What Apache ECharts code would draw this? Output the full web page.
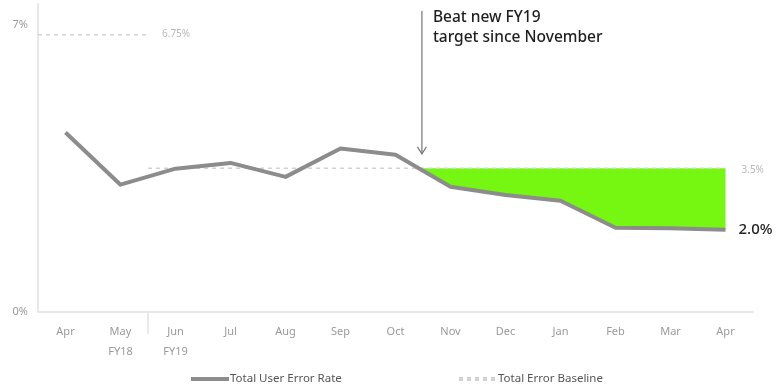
<!DOCTYPE html>
<html>
<head>
<meta charset="utf-8">
<script src="https://cdn.jsdelivr.net/npm/echarts@6/dist/echarts.min.js"></script>
<style>
  html, body { margin: 0; padding: 0; background: #fff; }
  #chart { width: 779px; height: 392px; }
</style>
</head>
<body>
<div id="chart"></div>
<script>
// Monthly user error rate, FY18 Apr through FY19 Apr
const months = ['Apr', 'May', 'Jun', 'Jul', 'Aug', 'Sep', 'Oct', 'Nov', 'Dec', 'Jan', 'Feb', 'Mar', 'Apr'];
const fiscalTags = ['', 'FY18', 'FY19', '', '', '', '', '', '', '', '', '', ''];
const errorRate = [4.37, 3.1, 3.49, 3.63, 3.29, 3.98, 3.83, 3.05, 2.85, 2.71, 2.05, 2.04, 2.0];
// Baseline targets: old FY18 target, then the new FY19 target
const oldBaseline = 6.75;
const newBaseline = 3.5;
const yTicks = [0, 7];

const FONT = '"Noto Sans", "Open Sans", sans-serif';
const GREY_LINE = '#8c8c8c';
const DASH = '#d2d2d2';
const FY_SPLIT = 1.5; // boundary between May (FY18) and Jun (FY19)

// Baseline segments on the continuous helper axis (index units, band edge at -0.5)
const baselineData = [
  [-0.5, oldBaseline], [FY_SPLIT, oldBaseline], [FY_SPLIT, '-'],
  [FY_SPLIT, newBaseline], [months.length - 1, newBaseline]
];

// Region where the rate has stayed under the new target: from the last crossing to the end
function belowTargetPolygon() {
  let i = errorRate.length - 1;
  while (i > 0 && errorRate[i - 1] <= newBaseline) i--;
  const t = (errorRate[i - 1] - newBaseline) / (errorRate[i - 1] - errorRate[i]);
  const pts = [[i - 1 + t, newBaseline]];
  for (let j = i; j < errorRate.length; j++) pts.push([j, errorRate[j]]);
  pts.push([errorRate.length - 1, newBaseline]);
  return pts;
}
const fillPts = belowTargetPolygon();

const legendBase = {
  itemWidth: 38, itemHeight: 12, itemGap: 0, padding: 0,
  textStyle: { color: '#555', fontSize: 11.5, fontFamily: FONT, padding: [0, 0, 0, -4] }
};

const chart = echarts.init(document.getElementById('chart'));
chart.setOption({
  animation: false,
  textStyle: { fontFamily: FONT },
  grid: { left: 38, right: 26, top: 4, bottom: 80 },
  legend: [
    Object.assign({}, legendBase, {
      data: [{ name: 'Total User Error Rate', itemStyle: { opacity: 0 } }],
      left: 189, top: 373,
      lineStyle: { width: 4, color: GREY_LINE }
    }),
    Object.assign({}, legendBase, {
      data: [{ name: 'Total Error Baseline', itemStyle: { opacity: 0 } }],
      left: 457, top: 373,
      lineStyle: { width: 4, color: DASH, type: [4, 4] }
    })
  ],
  xAxis: [
    {
      type: 'category',
      data: months,
      boundaryGap: true,
      axisLine: { lineStyle: { color: '#e8e8e8', width: 2 } },
      axisTick: { show: false },
      axisLabel: {
        color: '#9a9a9a', fontSize: 11, margin: 10, lineHeight: 20,
        formatter: (v, i) => fiscalTags[i] ? v + '\n' + fiscalTags[i] : v
      }
    },
    {
      type: 'value',
      min: -0.5, max: months.length - 0.5,
      show: false
    }
  ],
  yAxis: {
    type: 'value',
    min: 0, max: 7.5,
    splitLine: { show: false },
    axisTick: { show: false },
    axisLine: { show: true, onZero: false, lineStyle: { color: '#e8e8e8', width: 2 } },
    axisLabel: {
      customValues: yTicks,
      color: '#9a9a9a', fontSize: 11, margin: 10,
      formatter: (v) => v + '%'
    }
  },
  series: [
    {
      name: 'Below target',
      type: 'custom',
      xAxisIndex: 1,
      data: [0],
      z: 1,
      silent: true,
      renderItem: (params, api) => ({
        type: 'polygon',
        shape: { points: fillPts.map((p) => api.coord(p)) },
        style: { fill: '#76f712' }
      })
    },
    {
      name: 'Total Error Baseline',
      type: 'line',
      xAxisIndex: 1,
      data: baselineData,
      symbol: 'none',
      z: 2,
      lineStyle: { color: DASH, width: 1.5, type: [4, 4] },
      markPoint: {
        symbol: 'circle',
        symbolSize: 2,
        itemStyle: { color: 'rgba(255,255,255,0)' },
        silent: true,
        label: { show: true, color: '#b8b8b8', fontSize: 10, position: 'right' },
        data: [
          { coord: [FY_SPLIT, oldBaseline], value: oldBaseline, label: { formatter: oldBaseline + '%', offset: [8, -1] } },
          { coord: [months.length - 1, newBaseline], value: newBaseline, label: { formatter: newBaseline + '%', offset: [10, 2] } }
        ]
      }
    },
    {
      name: 'Total User Error Rate',
      type: 'line',
      data: errorRate,
      symbol: 'none',
      z: 3,
      lineStyle: { color: GREY_LINE, width: 4, join: 'round' },
      endLabel: {
        show: true,
        distance: 13,
        color: '#222',
        fontSize: 15,
        fontWeight: 500,
        formatter: (p) => p.value.toFixed(1) + '%'
      }
    }
  ]
});

// Callout arrow, the FY split marker under the axis, and the annotation text
const arrowX = chart.convertToPixel({ xAxisIndex: 1 }, 6.48);
const arrowTipY = chart.convertToPixel({ yAxisIndex: 0 }, 3.85);
const splitX = chart.convertToPixel({ xAxisIndex: 1 }, FY_SPLIT);
const axisY = chart.convertToPixel({ yAxisIndex: 0 }, 0);
chart.setOption({
  graphic: [
    {
      type: 'line',
      shape: { x1: splitX, y1: axisY, x2: splitX, y2: axisY + 22 },
      style: { stroke: '#e2e2e2', lineWidth: 1.5 }
    },
    {
      type: 'line',
      shape: { x1: arrowX, y1: 11, x2: arrowX, y2: arrowTipY },
      style: { stroke: '#777', lineWidth: 1.2 }
    },
    {
      type: 'polyline',
      shape: { points: [[arrowX - 4.5, arrowTipY - 7], [arrowX, arrowTipY], [arrowX + 4.5, arrowTipY - 7]] },
      style: { stroke: '#777', lineWidth: 1.2, fill: null }
    },
    {
      type: 'text',
      left: arrowX + 11, top: 8,
      style: {
        text: 'Beat new FY19\ntarget since November',
        fill: '#1e1e1e', font: '500 15.5px ' + FONT, lineHeight: 20
      }
    }
  ]
});
</script>
</body>
</html>
